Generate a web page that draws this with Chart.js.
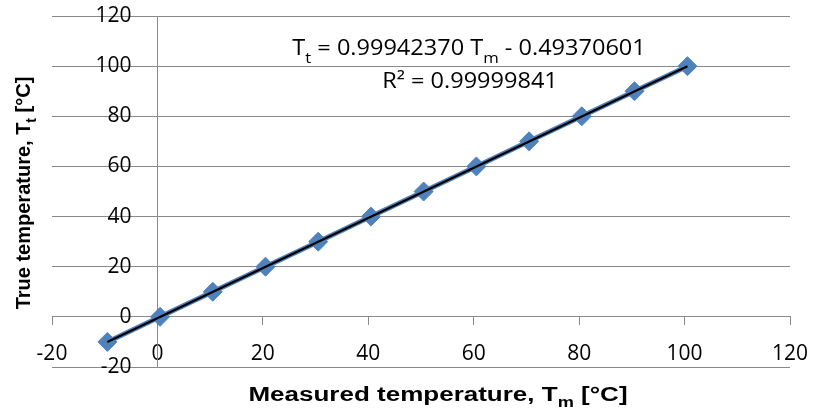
<!DOCTYPE html>
<html>
<head>
<meta charset="utf-8">
<script src="https://cdn.jsdelivr.net/npm/chart.js@4.4.1/dist/chart.umd.min.js"></script>
<style>
	html, body { margin: 0; padding: 0; background: #fff; }
	#calib { display: block; }
</style>
</head>
<body>
<canvas id="calib" width="815" height="419"></canvas>
<script>
// Chart data: measured vs true temperature
const MEASURED = [-9.5, 0.5, 10.5, 20.5, 30.5, 40.5, 50.5, 60.5, 70.5, 80.5, 90.5, 100.55];
const TRUE_TEMP = [-10, 0, 10, 20, 30, 40, 50, 60, 70, 80, 90, 100];

// Trendline coefficients shown on the chart
const SLOPE = 0.9994237;
const INTERCEPT = -0.49370601;
const EQ_SLOPE_TEXT = "0.99942370";
const EQ_INTERCEPT_TEXT = "0.49370601";
const R2_TEXT = "0.99999841";

const AXIS_MIN = -20;
const AXIS_MAX = 120;
const AXIS_STEP = 20;

const BLUE = "#4F81BD";
const GRID = "#898989";
const TICK_FONT = { family: "'Open Sans'", size: 21 };
const Y_LABEL_GAP = 26;

const seriesPoints = MEASURED.map((x, i) => ({ x: x, y: TRUE_TEMP[i] }));
const trendEnds = [Math.min(...MEASURED), Math.max(...MEASURED)];
const trendPoints = trendEnds.map((x) => ({ x: x, y: SLOPE * x + INTERCEPT }));

// label overhang padding is not wanted, the layout padding handles it
const noPadding = (scale) => {
	scale.paddingTop = 0;
	scale.paddingBottom = 0;
	scale.paddingLeft = 0;
	scale.paddingRight = 0;
};

// Draws text made of normal and subscript pieces, stretched by sx
const drawRich = (ctx, parts, x, y, font, subFont, subShift, sx) => {
	let total = 0;
	parts.forEach((p) => {
		ctx.font = p.sub ? subFont : font;
		total += ctx.measureText(p.t).width;
	});
	ctx.save();
	ctx.translate(x, y);
	ctx.scale(sx, 1);
	let cx = -total / 2;
	parts.forEach((p) => {
		ctx.font = p.sub ? subFont : font;
		ctx.fillText(p.t, cx, p.sub ? subShift : 0);
		cx += ctx.measureText(p.t).width;
	});
	ctx.restore();
};

const textPlugin = {
	id: "textPlugin",
	afterDraw(chart) {
		const { ctx } = chart;
		ctx.save();
		ctx.fillStyle = "#000";
		ctx.textBaseline = "alphabetic";
		ctx.textAlign = "left";

		// trendline equation
		const eqFont = "21px 'Open Sans'";
		const eqSub = "15px 'Open Sans'";
		drawRich(ctx, [
			{ t: "T" }, { t: "t", sub: true },
			{ t: " = " + EQ_SLOPE_TEXT + " T" }, { t: "m", sub: true },
			{ t: " - " + EQ_INTERCEPT_TEXT },
		], 469, 55, eqFont, eqSub, 8, 1.12);
		drawRich(ctx, [{ t: "R² = " + R2_TEXT }], 470, 88, eqFont, eqSub, 8, 1.12);

		// axis titles
		const titleFont = "bold 20px 'Liberation Sans'";
		const titleSub = "bold 14px 'Liberation Sans'";
		drawRich(ctx, [
			{ t: "Measured temperature, T" }, { t: "m", sub: true }, { t: " [°C]" },
		], 438, 401, titleFont, titleSub, 6, 1.3);

		ctx.translate(30, 193);
		ctx.rotate(-Math.PI / 2);
		drawRich(ctx, [
			{ t: "True temperature, T" }, { t: "t", sub: true }, { t: " [°C]" },
		], 0, 0, titleFont, titleSub, 6, 1);
		ctx.restore();
	},
};

const CHART_CONFIG = {
	type: "scatter",
	data: {
		datasets: [
			{
				label: "Trend",
				data: trendPoints,
				showLine: true,
				borderColor: "#000",
				borderWidth: 2.2,
				pointRadius: 0,
			},
			{
				label: "Calibration",
				data: seriesPoints,
				showLine: true,
				borderColor: BLUE,
				borderWidth: 5,
				pointStyle: "rectRot",
				pointRadius: 9.5,
				pointBackgroundColor: BLUE,
				pointBorderColor: BLUE,
				pointBorderWidth: 1,
			},
		],
	},
	options: {
		responsive: false,
		animation: false,
		devicePixelRatio: 1,
		layout: {
			padding: { left: 52, right: 25, top: 16, bottom: 52 },
		},
		scales: {
			x: {
				type: "linear",
				min: AXIS_MIN,
				max: AXIS_MAX,
				position: { y: 0 },
				afterFit: noPadding,
				border: { display: true, color: GRID, width: 1 },
				grid: {
					drawOnChartArea: false,
					drawTicks: true,
					tickLength: 8,
					color: GRID,
				},
				ticks: {
					stepSize: AXIS_STEP,
					padding: 17,
					color: "#000",
					font: TICK_FONT,
					maxRotation: 0,
				},
			},
			y: {
				type: "linear",
				min: AXIS_MIN,
				max: AXIS_MAX,
				position: { x: 0 },
				afterFit: noPadding,
				border: { display: true, color: GRID, width: 1 },
				grid: {
					drawTicks: true,
					tickLength: 8,
					color: GRID,
				},
				ticks: {
					display: false,
					stepSize: AXIS_STEP,
				},
			},
			// carries the y tick labels, set a little left of the y axis line
			yLabels: {
				type: "linear",
				axis: "y",
				min: AXIS_MIN,
				max: AXIS_MAX,
				position: { x: 0 },
				afterFit: noPadding,
				border: { display: false },
				grid: { display: false, drawTicks: false },
				ticks: {
					stepSize: AXIS_STEP,
					padding: 0,
					color: "#000",
					font: TICK_FONT,
				},
			},
		},
		plugins: {
			legend: { display: false },
			tooltip: { enabled: false },
		},
	},
	plugins: [textPlugin],
};

const calibChart = new Chart(document.getElementById("calib"), CHART_CONFIG);
const xScale = calibChart.scales.x;
calibChart.options.scales.yLabels.position = {
	x: xScale.getValueForPixel(xScale.getPixelForValue(0) - Y_LABEL_GAP),
};
calibChart.update();
</script>
</body>
</html>
